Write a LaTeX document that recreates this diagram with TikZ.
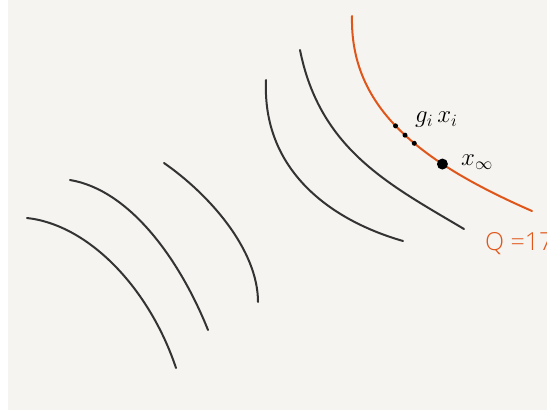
\documentclass[tikz,border=0pt]{standalone}
\usepackage{fontspec}
\setmainfont{Open Sans Light}[BoldFont=Open Sans]
\begin{document}
\begin{tikzpicture}[x=1pt,y=-1pt,
  level/.style={draw=curvegray,line width=2pt,line cap=round},
  qlevel/.style={draw=qorange,line width=2pt,line cap=round},
  sdot/.style={circle,fill=black,inner sep=0pt,minimum size=5pt},
  bdot/.style={circle,fill=black,inner sep=0pt,minimum size=11pt},
  lbl/.style={inner sep=1pt,font=\fontsize{24}{28}\selectfont}]
\definecolor{bg}{HTML}{F5F4F0}
\definecolor{curvegray}{HTML}{333333}
\definecolor{qorange}{HTML}{E0561A}
\useasboundingbox (0,0) rectangle (547,412);
\fill[white] (0,0) rectangle (547,412);
\fill[bg] (8,0) rectangle (547,410);
\draw[level] (27,218) .. controls (90,225) and (150,290) .. (176,368);
\draw[level] (70,180) .. controls (130,190) and (180,260) .. (208,330);
\draw[level] (164,163) .. controls (210,195) and (258,250) .. (258,302);
\draw[level] (266,80) .. controls (262,170) and (330,220) .. (403,241);
\draw[level] (300,50) .. controls (320,150) and (390,185) .. (464,229);
\draw[qlevel] (352,16) .. controls (350,105) and (415,160) .. (532,211)
  node[sdot,pos=0.49] (d1) {}
  node[sdot,pos=0.54] (d2) {}
  node[sdot,pos=0.585] (d3) {}
  node[bdot,pos=0.705] (xinf) {};
\node[lbl,anchor=west] (gx) at (414,120) {$g_i\,x_i$};
\node[lbl,anchor=west] (xl) at (460,162) {$x_\infty$};
\node[lbl,anchor=west,text=qorange,font=\Huge] (q) at (484,244) {Q =17};
\end{tikzpicture}
\end{document}
